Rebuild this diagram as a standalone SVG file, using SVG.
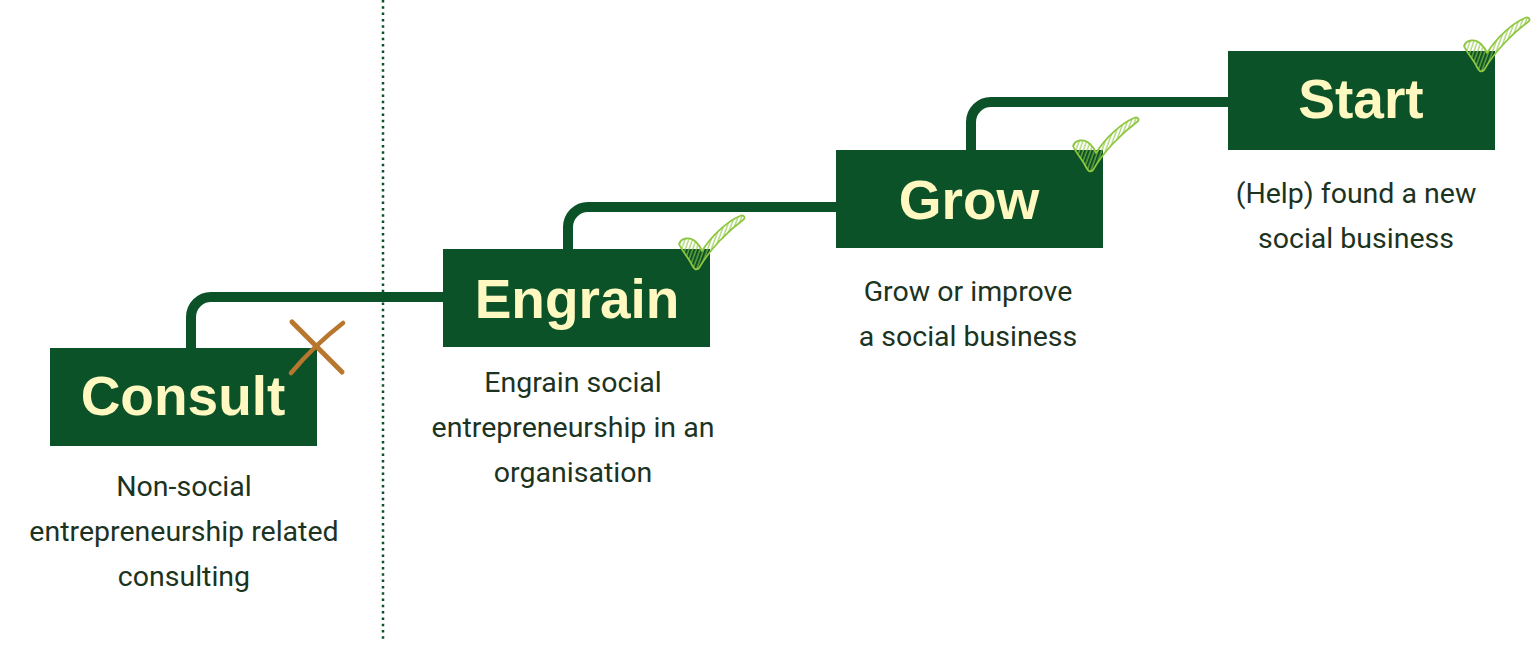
<svg xmlns="http://www.w3.org/2000/svg" width="1536" height="649" viewBox="0 0 1536 649">
  <style>
    .box { fill: #0b5229; }
    .title { font-family: "Liberation Sans", Arial, sans-serif; font-weight: bold; font-size: 55px; fill: #fff8c1; text-anchor: middle; }
    .body { font-family: Roboto, "Liberation Sans", sans-serif; font-size: 28.5px; fill: #1c3322; text-anchor: middle; }
    .conn { fill: none; stroke: #0b5229; stroke-width: 10; }
    .divider { fill: none; stroke: #0b5229; stroke-width: 2.5; stroke-dasharray: 2.5 3.8; }
    .check { fill: url(#hatch); stroke: #8dc63f; stroke-width: 1.8; stroke-linejoin: round; }
    .cross { fill: none; stroke: #b8772f; stroke-linecap: round; }
  </style>
  <defs>
    <pattern id="hatch" width="3.5" height="3.5" patternUnits="userSpaceOnUse" patternTransform="rotate(20)">
      <rect width="3.5" height="3.5" fill="none"/>
      <line x1="1" y1="0" x2="1" y2="3.5" stroke="#8dc63f" stroke-width="1"/>
    </pattern>
    <g id="checkmark">
      <path class="check" d="M1,29 C3,23 12,21 18,27 C21,30 23,33 24,36 C34,20 50,6 62,1 C66,-1 68,3 65,5 C50,16 32,34 21,53 C18,56 16,54 14,50 C10,42 4,36 1,29 Z"/>
    </g>
  </defs>
  <rect width="1536" height="649" fill="#ffffff"/>

  <line class="divider" x1="383" y1="0" x2="383" y2="640"/>

  <g id="connectors">
    <path class="conn" d="M191,348 V317 A20,20 0 0 1 211,297 H444"/>
    <path class="conn" d="M568,249 V227 A20,20 0 0 1 588,207 H837"/>
    <path class="conn" d="M971,150 V122 A20,20 0 0 1 991,102 H1229"/>
  </g>

  <g id="consult">
    <rect class="box" x="50" y="348" width="267" height="98"/>
    <text class="title" x="183" y="415">Consult</text>
    <path class="cross" stroke-width="5" d="M292,322 C308,338 326,356 342,372"/>
    <path class="cross" stroke-width="4.5" d="M343,323 C325,337 306,355 291,373"/>
    <text class="body" x="184" y="496">Non-social</text>
    <text class="body" x="184" y="541">entrepreneurship related</text>
    <text class="body" x="184" y="586">consulting</text>
  </g>

  <g id="engrain">
    <rect class="box" x="443" y="249" width="267" height="98"/>
    <text class="title" x="577" y="318">Engrain</text>
    <use href="#checkmark" x="678" y="215"/>
    <text class="body" x="573" y="392">Engrain social</text>
    <text class="body" x="573" y="437">entrepreneurship in an</text>
    <text class="body" x="573" y="482">organisation</text>
  </g>

  <g id="grow">
    <rect class="box" x="836" y="150" width="267" height="98"/>
    <text class="title" x="969" y="219">Grow</text>
    <use href="#checkmark" x="1072" y="117"/>
    <text class="body" x="968" y="301">Grow or improve</text>
    <text class="body" x="968" y="346">a social business</text>
  </g>

  <g id="start">
    <rect class="box" x="1228" y="51" width="267" height="99"/>
    <text class="title" x="1361" y="118">Start</text>
    <use href="#checkmark" x="1463" y="17"/>
    <text class="body" x="1356" y="203">(Help) found a new</text>
    <text class="body" x="1356" y="248">social business</text>
  </g>
</svg>
